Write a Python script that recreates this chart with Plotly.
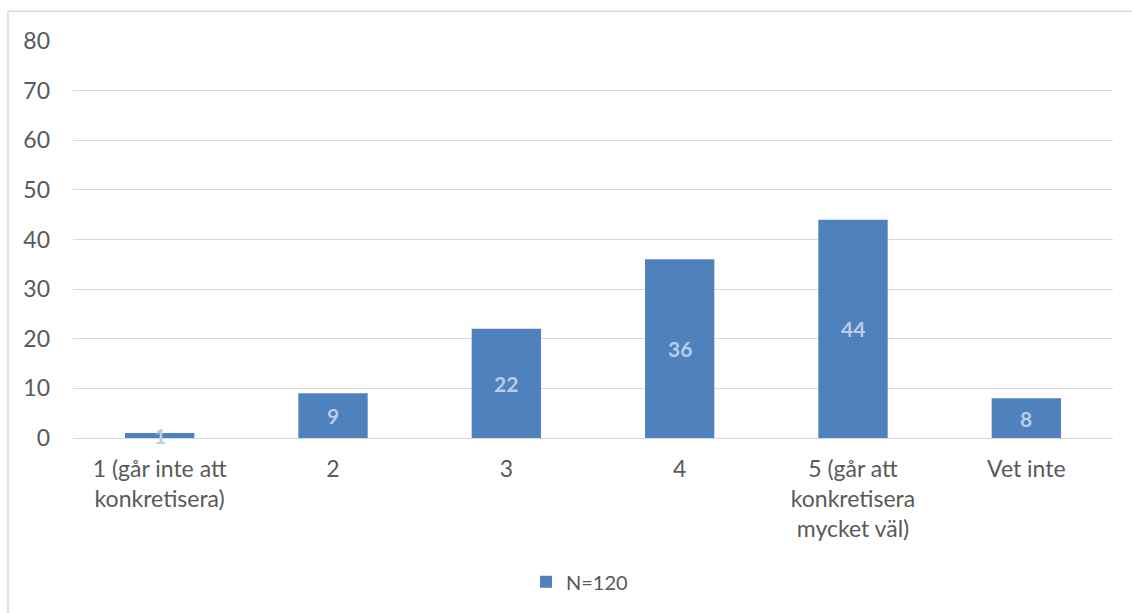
import plotly.graph_objects as go

categories = ["1 (går inte att<br>konkretisera)", "2", "3", "4",
              "5 (går att<br>konkretisera<br>mycket väl)", "Vet inte"]
values = [1, 9, 22, 36, 44, 8]
series_name = "N=120"
y_ticks = [0, 10, 20, 30, 40, 50, 60, 70, 80]

bar_color = "#4F81BD"
label_color = "#B9CCEA"
text_color = "#595959"
grid_color = "#D9D9D9"
font_family = "Lato, 'Open Sans', sans-serif"

fig = go.Figure()
fig.add_trace(go.Bar(
    x=categories, y=values, name=series_name,
    marker=dict(color=bar_color, line=dict(width=0)),
    showlegend=True,
))

# value labels centred on each bar (x given as category index)
for i, v in enumerate(values):
    fig.add_annotation(x=i, y=v / 2, text=f"<b>{v}</b>", showarrow=False,
                       font=dict(family=font_family, size=21, color=label_color),
                       xanchor="center", yanchor="middle")

# outer chart border
fig.add_shape(type="rect", xref="paper", yref="paper",
              x0=-0.0625, x1=1.5, y0=-2, y1=1.0752,
              line=dict(color=grid_color, width=1.5), layer="below")

fig.update_layout(
    width=1132, height=613,
    margin=dict(l=73, r=19, t=41, b=173),
    paper_bgcolor="white", plot_bgcolor="white",
    bargap=0.6,
    font=dict(family=font_family, size=23, color=text_color),
    legend=dict(orientation="h", x=0.487, xanchor="center", y=-0.362, yanchor="middle",
                font=dict(size=20, color=text_color), itemwidth=30,
                itemsizing="constant"),
    xaxis=dict(showgrid=False, showline=False, ticks="", tickfont=dict(size=23),
               ticklabelstandoff=15),
    yaxis=dict(range=[0, 80], tickvals=y_ticks, showgrid=True, gridcolor=grid_color,
               gridwidth=1.3, zeroline=True, zerolinecolor=grid_color, zerolinewidth=1.3,
               showline=False, ticks="", tickfont=dict(size=23), ticklabelstandoff=22),
)

fig.write_html("out.html")
